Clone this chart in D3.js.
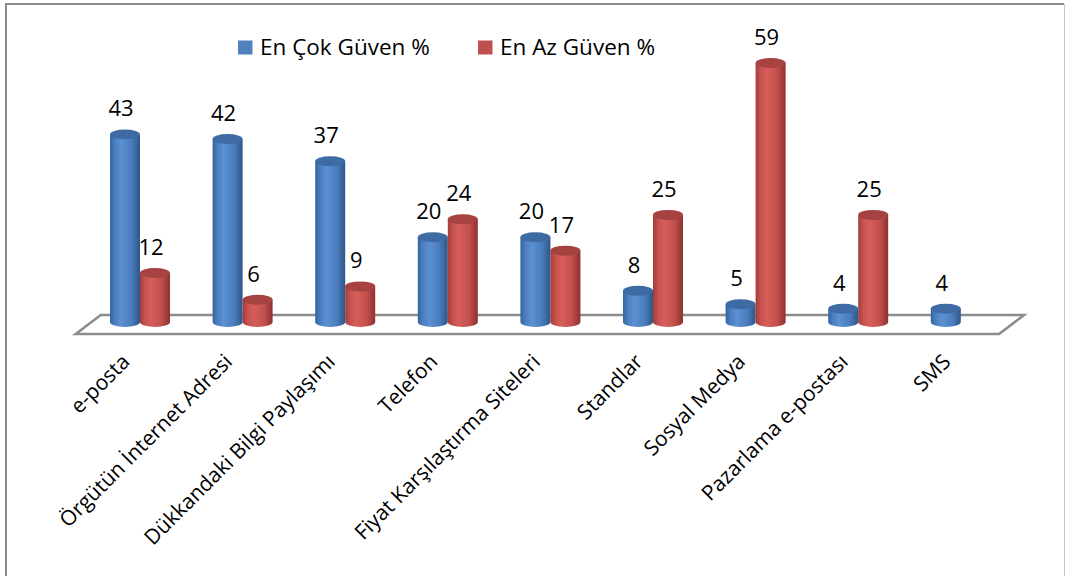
<!DOCTYPE html>
<html>
<head>
<meta charset="utf-8">
<script src="https://cdn.jsdelivr.net/npm/d3@7"></script>
<style>
  html, body { margin: 0; padding: 0; background: #fff; }
  svg { display: block; }
  text { font-family: "Open Sans", "Noto Sans", sans-serif; fill: #000; }
</style>
</head>
<body>
<svg id="chart" width="1066" height="576"></svg>
<script>
// Güven kaynakları: en çok / en az güvenilen kanallar (%)
const categories = [
  "e-posta",
  "Örgütün İnternet Adresi",
  "Dükkandaki Bilgi Paylaşımı",
  "Telefon",
  "Fiyat Karşılaştırma Siteleri",
  "Standlar",
  "Sosyal Medya",
  "Pazarlama e-postası",
  "SMS"
];
const seriesNames = ["En Çok Güven %", "En Az Güven %"];
const enCok = [43, 42, 37, 20, 20, 8, 5, 4, 4];
const enAz  = [12, 6, 9, 24, 17, 25, 59, 25, null];

const W = 1066, H = 576;
const svg = d3.select("#chart");

const colors = {
  [seriesNames[0]]: { base: "#4f81bd", top: "#3f6ba4", stops: ["#3465a0", "#4c80c2", "#5b90d2", "#4a7dbd", "#2e5687"] },
  [seriesNames[1]]: { base: "#c0504d", top: "#a64340", stops: ["#a13d3a", "#c95350", "#d65e5a", "#c24f4c", "#8c312f"] }
};

// Shading for the cylinder bodies
const defs = svg.append("defs");
seriesNames.forEach((s, i) => {
  const g = defs.append("linearGradient").attr("id", "grad" + i)
    .attr("x1", "0%").attr("x2", "100%").attr("y1", "0%").attr("y2", "0%");
  const offs = [0, 0.18, 0.38, 0.72, 1];
  colors[s].stops.forEach((c, k) => g.append("stop").attr("offset", offs[k]).attr("stop-color", c));
});

// Chart frame
svg.append("path")
  .attr("d", "M6,620 L6,4 L1064,4")
  .attr("fill", "none").attr("stroke", "#8a8a8a").attr("stroke-width", 2);
svg.append("line")
  .attr("x1", 1064.5).attr("x2", 1064.5).attr("y1", 4).attr("y2", 620)
  .attr("stroke", "#c8c8c8").attr("stroke-width", 1);

// Scales
const x = d3.scaleBand().domain(categories).range([88.7, 1012.1]).padding(0);
const xs = d3.scaleBand().domain(seriesNames).range([-30, 30]).padding(0);
const y = d3.scaleLinear().domain([0, 59]).range([326.6, 63]);

const depthY = 322;   // centre of cylinder bases
const ry = 5;         // ellipse half-height of cylinder caps
const rx = xs.bandwidth() / 2;

// Floor of the 3D plot
const floorFrontY = 334, floorBackY = 315, floorShift = 25;
const floorLeft = x.range()[0] - 13, floorRight = x.range()[1] - 13;
svg.append("path")
  .attr("d", `M${floorLeft},${floorFrontY} L${floorLeft + floorShift},${floorBackY} L${floorRight + floorShift},${floorBackY} L${floorRight},${floorFrontY} Z`)
  .attr("fill", "#fff").attr("stroke", "#8c8c8c").attr("stroke-width", 2.5);

// Bars as cylinders
const rows = [];
categories.forEach((c, i) => {
  [enCok[i], enAz[i]].forEach((v, k) => {
    if (v == null) return;
    rows.push({ cat: c, series: seriesNames[k], idx: k, value: v });
  });
});

const bars = svg.append("g").selectAll("g.bar").data(rows).join("g").attr("class", "bar");
bars.each(function(d) {
  const g = d3.select(this);
  const cx = x(d.cat) + x.bandwidth() / 2 + xs(d.series) + rx;
  const top = y(d.value);
  g.append("path")
    .attr("d", `M${cx - rx},${top} L${cx - rx},${depthY} A${rx},${ry} 0 0 0 ${cx + rx},${depthY} L${cx + rx},${top} Z`)
    .attr("fill", `url(#grad${d.idx})`);
  g.append("ellipse")
    .attr("cx", cx).attr("cy", top).attr("rx", rx).attr("ry", ry)
    .attr("fill", colors[d.series].top);
  g.append("text")
    .attr("x", cx - 4).attr("y", top - ry - 13)
    .attr("text-anchor", "middle")
    .attr("font-size", 22)
    .text(d.value);
});

// Category labels, rotated
svg.append("g").selectAll("text.cat").data(categories).join("text")
  .attr("class", "cat")
  .attr("text-anchor", "end")
  .attr("font-size", 21)
  .attr("transform", d => `translate(${x(d) + x.bandwidth() / 2 - 9},363) rotate(-45)`)
  .text(d => d);

// Legend
const legend = svg.append("g");
const legendX = [238, 478];
seriesNames.forEach((s, i) => {
  const lg = legend.append("g").attr("transform", `translate(${legendX[i]},0)`);
  lg.append("rect").attr("x", 0).attr("y", 40.5).attr("width", 14.5).attr("height", 14)
    .attr("fill", colors[s].base);
  lg.append("text").attr("x", 22).attr("y", 55).attr("font-size", 22.5).text(s);
});
</script>
</body>
</html>
